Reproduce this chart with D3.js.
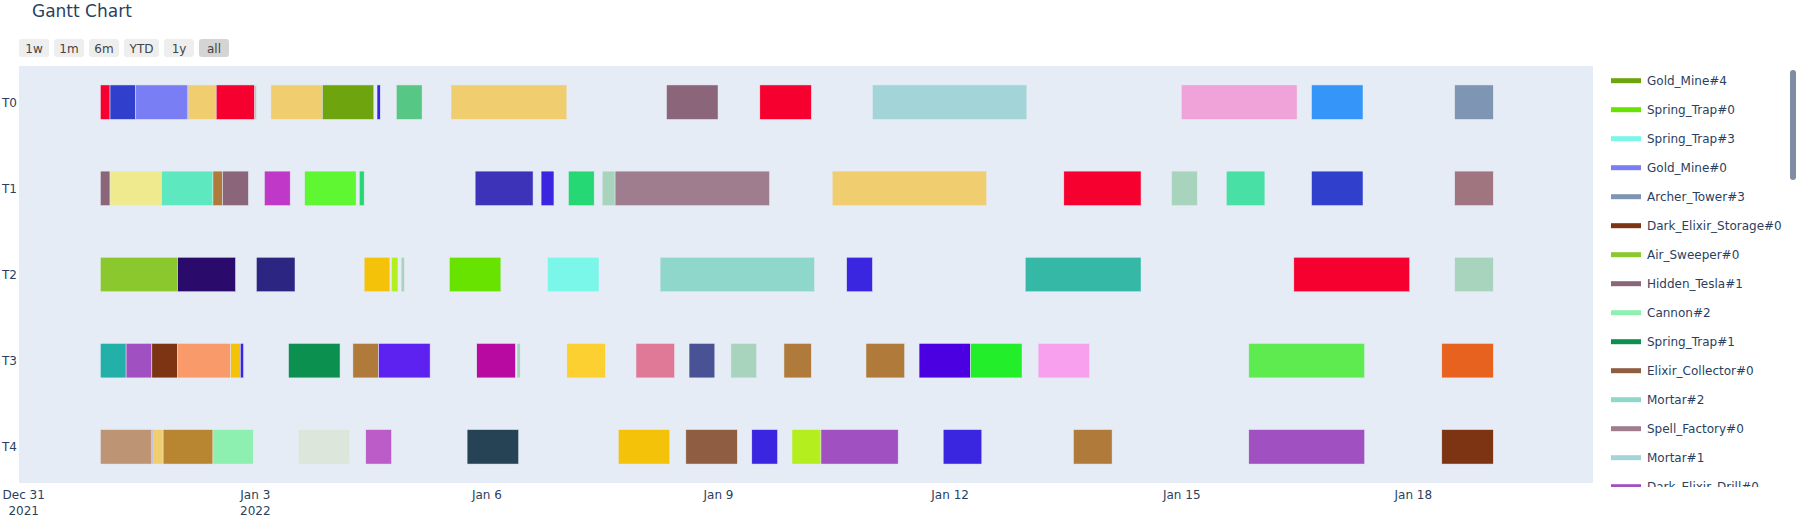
<!DOCTYPE html>
<html>
<head>
<meta charset="utf-8">
<script src="https://cdn.jsdelivr.net/npm/d3@7"></script>
<style>
  html, body { margin: 0; padding: 0; background: #fff; }
  svg { display: block; font-family: "DejaVu Sans", verdana, arial, sans-serif; }
</style>
</head>
<body>
<svg id="chart" width="1804" height="528"></svg>
<script>
// ---------------- DATA ----------------
const workers = ["T0", "T1", "T2", "T3", "T4"];

const taskNames = [
  "Gold_Mine#4", "Spring_Trap#0", "Spring_Trap#3", "Gold_Mine#0", "Archer_Tower#3",
  "Dark_Elixir_Storage#0", "Air_Sweeper#0", "Hidden_Tesla#1", "Cannon#2", "Spring_Trap#1",
  "Elixir_Collector#0", "Mortar#2", "Spell_Factory#0", "Mortar#1", "Dark_Elixir_Drill#0",
  "Inferno_Tower#0", "Cannon#0", "Town_Hall#0", "Builder_Hut#0", "Bomb#2",
  "Air_Bomb#0", "Archer_Tower#1", "Wizard_Tower#0", "Elixir_Storage#0", "Gold_Storage#1",
  "Cannon#1", "Laboratory#0", "Gold_Mine#2", "Elixir_Collector#3", "Army_Camp#0",
  "X_Bow#0", "Mortar#0", "Clan_Castle#0", "Barracks#0", "Gold_Mine#1",
  "Spring_Trap#2", "Wizard_Tower#1", "Archer_Tower#0", "Elixir_Collector#1", "Hidden_Tesla#0",
  "Air_Defense#0", "Gold_Mine#3", "Giant_Bomb#0", "Air_Defense#1", "Elixir_Collector#2",
  "Gold_Storage#0", "Seeking_Air_Mine#0", "Cannon#3", "Archer_Tower#2", "Dark_Barracks#0",
  "Bomb#0", "Wall#1", "Spell_Factory#1", "Dark_Spell_Factory#0"
];

const taskColors = [
  "#6ea50f", "#68e300", "#7af7e8", "#7a7ef5", "#7e96b4",
  "#7c3413", "#8ac82e", "#8b6579", "#8df0b0", "#0c9050",
  "#8f5e42", "#8fd6cb", "#a07d8e", "#a3d5d8", "#a050c0",
  "#f5002f", "#3140cc", "#f0cd6e", "#b07a3a", "#a8d4bd",
  "#3a26e0", "#57c785", "#f0a3d8", "#3595f9", "#f0ea8f",
  "#5ee8c0", "#c038c8", "#5ef732", "#25d874", "#3c33b8",
  "#49e0a5", "#a0757f", "#2a0a6a", "#2d2582", "#f5c20a",
  "#b4ee1e", "#36b8a6", "#22b0a8", "#f89a6a", "#5e22f0",
  "#b80aa0", "#fcd030", "#e07898", "#4a5296", "#4a00e0",
  "#22ee2a", "#f8a0ee", "#5eeb50", "#e6621e", "#bd9575",
  "#b88630", "#dce6da", "#bc5cc8", "#264255"
];

// [worker, task, start hour, end hour]  (hours after 2022-01-01 00:00)
const scheduleT0 = [
  ["T0","Inferno_Tower#0",0,3], ["T0","Cannon#0",3,11], ["T0","Gold_Mine#0",11,27],
  ["T0","Builder_Hut#0",27,27.5], ["T0","Town_Hall#0",27.5,36], ["T0","Inferno_Tower#0",36,48],
  ["T0","Bomb#2",48,48.5], ["T0","Town_Hall#0",53,69], ["T0","Gold_Mine#4",69,85],
  ["T0","Air_Bomb#0",86,87], ["T0","Archer_Tower#1",92,100], ["T0","Town_Hall#0",109,145],
  ["T0","Hidden_Tesla#1",176,192], ["T0","Inferno_Tower#0",205,221], ["T0","Mortar#1",240,288],
  ["T0","Wizard_Tower#0",336,372], ["T0","Elixir_Storage#0",376.5,392.5], ["T0","Archer_Tower#3",421,433]
];
const scheduleT1 = [
  ["T1","Hidden_Tesla#1",0,3], ["T1","Gold_Storage#1",3,19], ["T1","Cannon#1",19,35],
  ["T1","Builder_Hut#0",35,38], ["T1","Hidden_Tesla#1",38,46], ["T1","Laboratory#0",51,59],
  ["T1","Gold_Mine#2",63.5,79.5], ["T1","Elixir_Collector#3",80.5,82], ["T1","Army_Camp#0",116.5,134.5],
  ["T1","Air_Bomb#0",137,141], ["T1","Elixir_Collector#3",145.5,153.5], ["T1","Bomb#2",156,160],
  ["T1","Spell_Factory#0",160,208], ["T1","Town_Hall#0",227.5,275.5], ["T1","Inferno_Tower#0",299.5,323.5],
  ["T1","Bomb#2",333,341], ["T1","X_Bow#0",350,362], ["T1","Cannon#0",376.5,392.5],
  ["T1","Mortar#0",421,433]
];
const scheduleT2 = [
  ["T2","Air_Sweeper#0",0,24], ["T2","Clan_Castle#0",24,42], ["T2","Barracks#0",48.5,60.5],
  ["T2","Gold_Mine#1",82,90], ["T2","Spring_Trap#2",90.5,92.5], ["T2","Bomb#2",93.5,94.5],
  ["T2","Spring_Trap#0",108.5,124.5], ["T2","Spring_Trap#3",139,155], ["T2","Mortar#2",174,222],
  ["T2","Air_Bomb#0",232,240], ["T2","Wizard_Tower#1",287.5,323.5], ["T2","Inferno_Tower#0",371,407],
  ["T2","Bomb#2",421,433]
];
const scheduleT3 = [
  ["T3","Archer_Tower#0",0,8], ["T3","Dark_Elixir_Drill#0",8,16], ["T3","Dark_Elixir_Storage#0",16,24],
  ["T3","Elixir_Collector#1",24,40.5], ["T3","Gold_Mine#1",40.5,43.5], ["T3","Air_Bomb#0",43.5,44.5],
  ["T3","Spring_Trap#1",58.5,74.5], ["T3","Builder_Hut#0",78.5,86.5], ["T3","Hidden_Tesla#0",86.5,102.5],
  ["T3","Air_Defense#0",117,129], ["T3","Bomb#2",129.5,130.5], ["T3","Gold_Mine#3",145,157],
  ["T3","Giant_Bomb#0",166.5,178.5], ["T3","Air_Defense#1",183,191], ["T3","Bomb#2",196,204],
  ["T3","Builder_Hut#0",212.5,221], ["T3","Builder_Hut#0",238,250], ["T3","Elixir_Collector#2",254.5,270.5],
  ["T3","Gold_Storage#0",270.5,286.5], ["T3","Seeking_Air_Mine#0",291.5,307.5], ["T3","Cannon#3",357,393],
  ["T3","Archer_Tower#2",417,433]
];
const scheduleT4 = [
  ["T4","Dark_Barracks#0",0,16], ["T4","Air_Bomb#0",16,16.3], ["T4","Town_Hall#0",16.3,19.5],
  ["T4","Bomb#0",19.5,35], ["T4","Cannon#2",35,47.5], ["T4","Wall#1",61.5,77.5],
  ["T4","Spell_Factory#1",82.5,90.5], ["T4","Dark_Spell_Factory#0",114,130], ["T4","Gold_Mine#1",161,177],
  ["T4","Elixir_Collector#0",182,198], ["T4","Air_Bomb#0",202.5,210.5], ["T4","Spring_Trap#2",215,224],
  ["T4","Dark_Elixir_Drill#0",224,248], ["T4","Air_Bomb#0",262,274], ["T4","Builder_Hut#0",302.5,314.5],
  ["T4","Dark_Elixir_Drill#0",357,393], ["T4","Dark_Elixir_Storage#0",417,433]
];

const tickDates = ["2021-12-31","2022-01-03","2022-01-06","2022-01-09","2022-01-12","2022-01-15","2022-01-18"];
const tickLabels = [["Dec 31","2021"],["Jan 3","2022"],["Jan 6"],["Jan 9"],["Jan 12"],["Jan 15"],["Jan 18"]];
const rangeButtons = ["1w","1m","6m","YTD","1y","all"];

// ---------------- CHART ----------------
const FONT = '"DejaVu Sans", verdana, arial, sans-serif';
const svg = d3.select("#chart");
const HOUR = 3600e3;
const base = Date.UTC(2022, 0, 1);
const toDate = h => new Date(base + h * HOUR);

const plot = {left: 19, right: 1593, top: 66, bottom: 483};
const x = d3.scaleUtc()
  .domain([toDate(-25.3), toDate(464)])
  .range([plot.left, plot.right]);
const y = d3.scaleLinear()
  .domain([-0.42, workers.length - 1 + 0.42])
  .range([plot.top, plot.bottom]);
const barH = (y(1) - y(0)) * 0.4;
const color = d3.scaleOrdinal().domain(taskNames).range(taskColors);

// background
svg.append("rect")
  .attr("x", plot.left).attr("y", plot.top)
  .attr("width", plot.right - plot.left).attr("height", plot.bottom - plot.top)
  .attr("fill", "#E5ECF6");

const schedule = [].concat(scheduleT0, scheduleT1, scheduleT2, scheduleT3, scheduleT4);

svg.append("g").selectAll("rect")
  .data(schedule)
  .join("rect")
  .attr("x", d => x(toDate(d[2])))
  .attr("width", d => x(toDate(d[3])) - x(toDate(d[2])))
  .attr("y", d => y(workers.indexOf(d[0])) - barH / 2)
  .attr("height", barH)
  .attr("fill", d => color(d[1]))
  .attr("stroke", "#E5ECF6")
  .attr("stroke-width", 0.5);

// x axis
const xAxis = d3.axisBottom(x)
  .tickValues(tickDates.map(s => new Date(s + "T00:00:00Z")))
  .tickSize(0)
  .tickFormat(() => "");
const gx = svg.append("g")
  .attr("transform", `translate(0,${plot.bottom})`)
  .call(xAxis);
gx.select(".domain").remove();
gx.selectAll(".tick text").remove();
gx.selectAll(".tick").each(function(d, i) {
  const t = d3.select(this).append("text")
    .attr("text-anchor", "middle")
    .attr("fill", "#2a3f5f")
    .attr("font-size", 12)
    .attr("font-family", FONT);
  tickLabels[i].forEach((line, k) => {
    t.append("tspan").attr("x", 0).attr("y", 16 + k * 15.6).text(line);
  });
});

// y axis
const yAxis = d3.axisLeft(y)
  .tickValues(d3.range(workers.length))
  .tickSize(0)
  .tickPadding(0)
  .tickFormat(i => workers[i]);
const gy = svg.append("g")
  .attr("transform", `translate(17,0)`)
  .call(yAxis);
gy.select(".domain").remove();
gy.selectAll(".tick text")
  .attr("fill", "#2a3f5f")
  .attr("font-size", 12)
  .attr("font-family", FONT);

// title
svg.append("text")
  .attr("x", 32).attr("y", 17)
  .attr("fill", "#2a3f5f")
  .attr("font-size", 17)
  .attr("font-family", FONT)
  .text("Gantt Chart");

// range selector
const btnW = rangeButtons.map(b => b === "YTD" ? 35 : 30);
let bx = 19;
const gb = svg.append("g");
rangeButtons.forEach((b, i) => {
  const g = gb.append("g").attr("transform", `translate(${bx},39)`);
  g.append("rect")
    .attr("width", btnW[i]).attr("height", 18).attr("rx", 3)
    .attr("fill", b === "all" ? "#d4d4d4" : "#eeeeee");
  g.append("text")
    .attr("x", btnW[i] / 2).attr("y", 13.5)
    .attr("text-anchor", "middle")
    .attr("fill", "#444")
    .attr("font-size", 12)
    .attr("font-family", FONT)
    .text(b);
  bx += btnW[i] + 5;
});

// legend (scrollable viewport, clipped; only entries inside the viewport are drawn)
const legTop = 66, legBottom = 487;
svg.append("clipPath").attr("id", "legclip")
  .append("rect").attr("x", 1600).attr("y", legTop).attr("width", 204).attr("height", legBottom - legTop);
const leg = svg.append("g").attr("clip-path", "url(#legclip)");
const legendShown = taskNames.filter((n, i) => 80.7 + i * 29 - 8 < legBottom);
legendShown.forEach((name, i) => {
  const cy = 80.7 + i * 29;
  const g = leg.append("g").attr("transform", `translate(0,${cy})`);
  g.append("rect")
    .attr("x", 1611).attr("y", -2.5).attr("width", 30).attr("height", 5)
    .attr("fill", color(name));
  g.append("text")
    .attr("x", 1647).attr("y", 4.3)
    .attr("fill", "#2a3f5f")
    .attr("font-size", 12)
    .attr("font-family", FONT)
    .text(name);
});
svg.append("rect")
  .attr("x", 1790).attr("y", 70).attr("width", 6).attr("height", 110).attr("rx", 3)
  .attr("fill", "#808BA4");
</script>
</body>
</html>
